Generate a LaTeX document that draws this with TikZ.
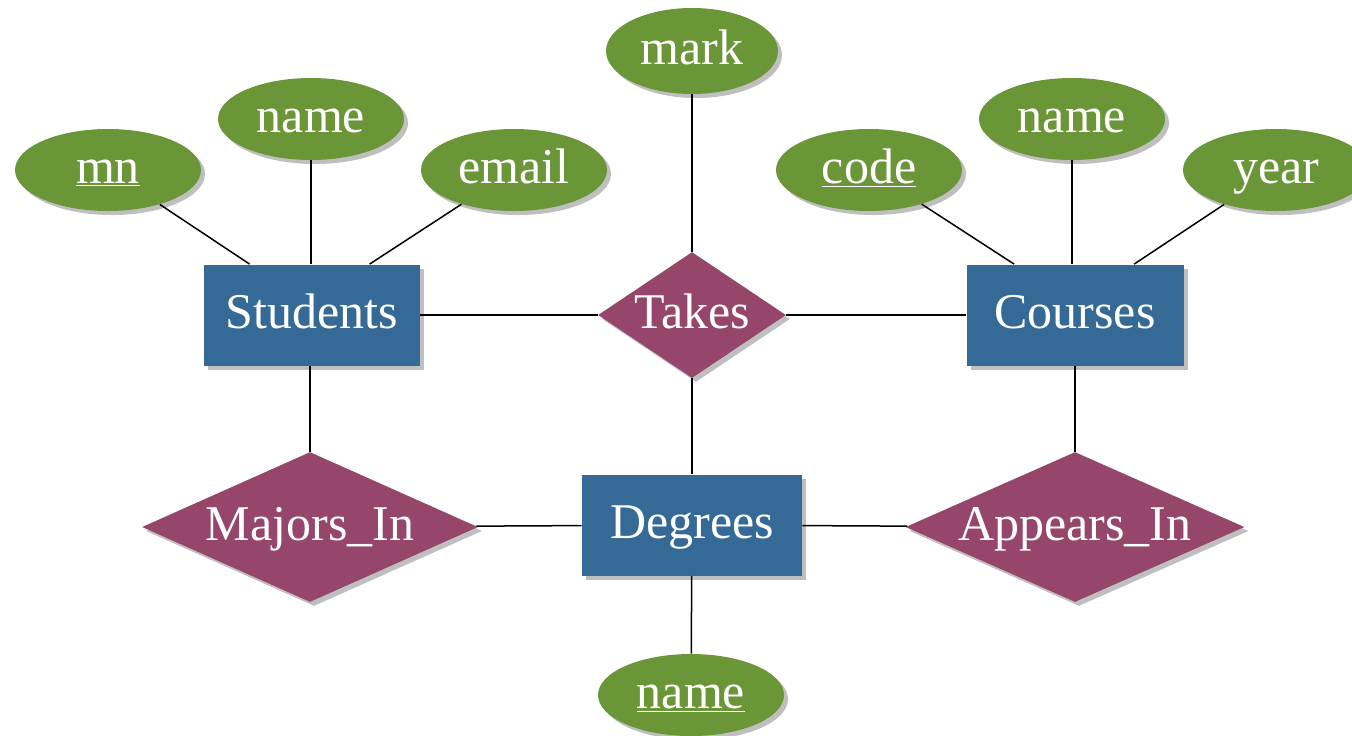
\documentclass[tikz,border=0pt]{standalone}
\usepackage{fontspec}
\setmainfont{Liberation Serif}
\usetikzlibrary{shapes.geometric,shadows}
\definecolor{attrgreen}{HTML}{6A9638}
\definecolor{entblue}{HTML}{366A96}
\definecolor{relred}{HTML}{96466A}
\tikzset{
  txt/.style={text=white,font=\fontsize{25}{30}\selectfont,text height=18pt,text depth=5pt},
  shd/.style={drop shadow={shadow xshift=2pt,shadow yshift=-2pt,opacity=0.25,fill=black}},
  attr/.style={ellipse,fill=attrgreen,shd,minimum width=93pt,minimum height=41pt,inner sep=0pt,txt},
  ent/.style={rectangle,fill=entblue,shd,minimum height=50.5pt,inner sep=0pt,txt},
  rel/.style={diamond,fill=relred,shd,inner sep=0pt,aspect=2,label={[txt,inner sep=0pt]center:#1}},
  conn/.style={draw=black,line width=0.75pt}
}
\begin{document}
\begin{tikzpicture}[x=0.5pt,y=-0.5pt]
\useasboundingbox (0,0) rectangle (1352,735);
% attributes
\node[attr] (mn) at (108,170) {\underline{mn}};
\node[attr] (sname) at (311,119) {name};
\node[attr] (email) at (514,170) {email};
\node[attr,minimum width=86pt,minimum height=43pt] (mark) at (692,51) {mark};
\node[attr] (code) at (869,170) {\underline{code}};
\node[attr] (cname) at (1072,119) {name};
\node[attr] (year) at (1276,170) {year};
\node[attr] (dname) at (691,695) {\underline{name}};
% entities
\node[ent,minimum width=108pt] (students) at (312,315) {Students};
\node[ent,minimum width=108.5pt] (courses) at (1075,315) {Courses};
\node[ent,minimum width=110pt] (degrees) at (692,525) {Degrees};
% relationships
\node[rel={Takes},minimum width=94pt,minimum height=63pt] (takes) at (692,315) {};
\node[rel={Majors\_In},minimum width=168pt,minimum height=75pt] (majors) at (310,527) {};
\node[rel={Appears\_In},minimum width=169.5pt,minimum height=75pt] (appears) at (1075,527) {};
% connectors
\draw[conn] (mn) -- ([xshift=23pt]students.north west);
\draw[conn] (sname) -- (sname |- students.north);
\draw[conn] (email) -- ([xshift=83pt]students.north west);
\draw[conn] (students) -- (takes);
\draw[conn] (mark) -- (takes);
\draw[conn] (takes) -- (courses);
\draw[conn] (code) -- ([xshift=24pt]courses.north west);
\draw[conn] (cname) -- (cname |- courses.north);
\draw[conn] (year) -- ([xshift=84pt]courses.north west);
\draw[conn] (students.south -| majors.north) -- (majors);
\draw[conn] (courses) -- (appears);
\draw[conn] (takes) -- (degrees);
\draw[conn] (majors) -- (degrees);
\draw[conn] (degrees) -- (appears);
\draw[conn] (degrees) -- (dname);
\end{tikzpicture}
\end{document}
